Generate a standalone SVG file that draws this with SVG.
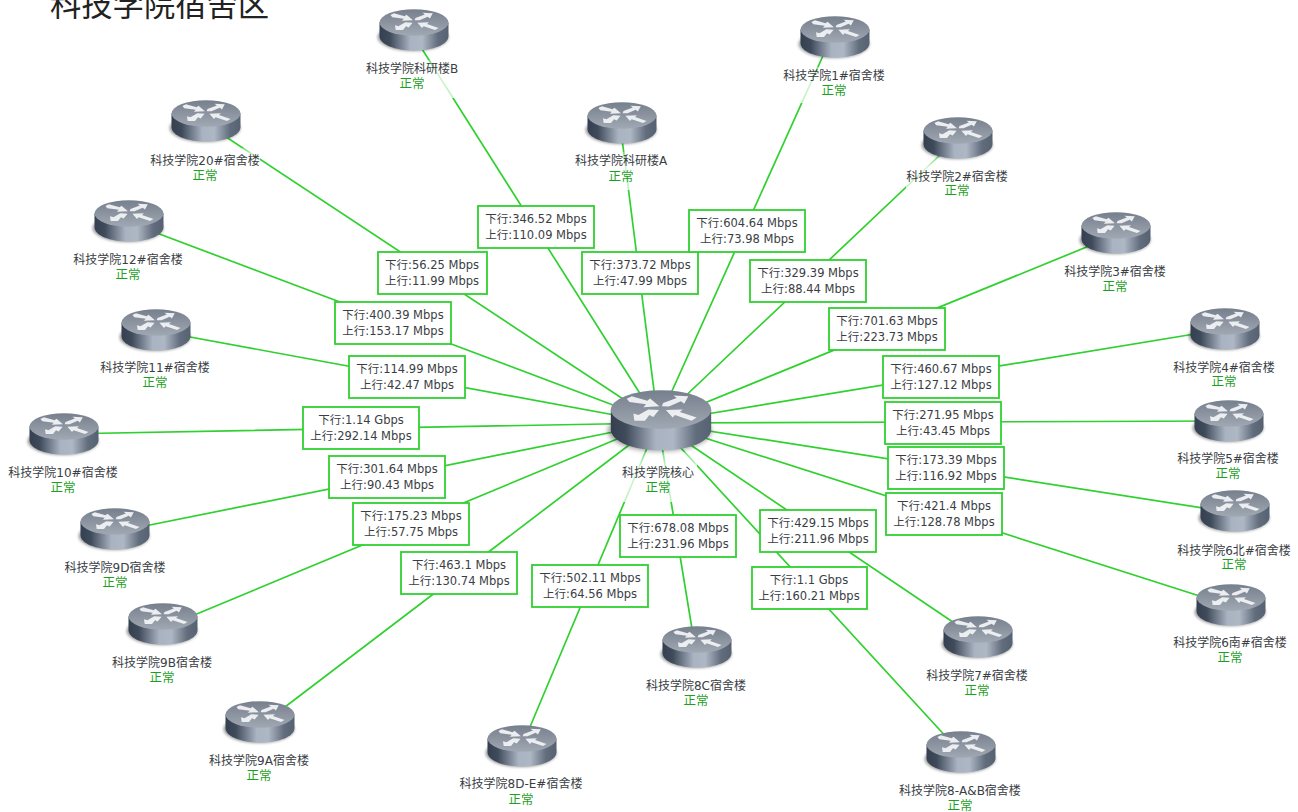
<svg xmlns="http://www.w3.org/2000/svg" width="1298" height="812" viewBox="0 0 1298 812">
<style>
text{font-family:"DejaVu Sans","Noto Sans CJK SC",sans-serif;font-size:12px;fill:#3a3e44;text-anchor:middle}
.title{font-family:"Liberation Sans","Noto Sans CJK SC",sans-serif;font-size:31.3px;fill:#222;text-anchor:start}
.st{fill:#1f9f1f;font-size:12.5px}
.ln{stroke:#2fd12f;stroke-width:1.7;fill:none}
.bx{fill:#fff;stroke:#2fd12f;stroke-width:1.8}
#link-labels text{font-size:11.5px}
</style>
<defs>
<linearGradient id="side" x1="0" x2="1" y1="0" y2="0">
<stop offset="0" stop-color="#343f50"/><stop offset=".15" stop-color="#3f4a5b"/><stop offset=".45" stop-color="#a9b3c1"/><stop offset=".62" stop-color="#aeb7c4"/><stop offset=".85" stop-color="#616c7c"/><stop offset="1" stop-color="#566171"/>
</linearGradient>
<linearGradient id="top" x1="0" x2="0" y1="0" y2="1">
<stop offset="0" stop-color="#767f8c"/><stop offset="1" stop-color="#a0a8b3"/>
</linearGradient>
<linearGradient id="fade" x1="0" x2="0" y1="0" y2="1"><stop offset="0" stop-color="#fff" stop-opacity=".3"/><stop offset=".3" stop-color="#fff" stop-opacity=".8"/><stop offset="1" stop-color="#fff" stop-opacity=".7"/></linearGradient>
<filter id="sh" x="-20%" y="-20%" width="140%" height="140%"><feGaussianBlur stdDeviation="1.8"/></filter>
<symbol id="r" viewBox="0 0 70 44" overflow="visible">
<ellipse cx="34" cy="28" rx="35.5" ry="14" fill="#000" opacity=".4" filter="url(#sh)"/>
<path d="M.5 13.500V27C.5 35.500 16 41.500 35 41.500S69.500 35.500 69.500 27V13.500Z" fill="url(#side)"/>
<ellipse cx="35" cy="13.500" rx="34.500" ry="13.300" fill="url(#top)"/>
<g fill="#f1f3f5" opacity=".95" transform="scale(1 .94)">
<path d="M11.400 6.400L14.900 4.600 25.600 7.800 27.500 6.200 33.900 11.900 22.900 12.600 24.700 10.500 13.300 8.700Z"/>
<path d="M36.500 9.500L45.800 5.900 43.500 4.100 53.800 4.600 50.900 10 48.700 8.300 40.500 12 35.600 11.900Z"/>
<path d="M33.600 14.600L29.700 19.700 27 18.300 24 22.400 16.700 22.400 16 17.200 19.500 18.300 26.300 14.200Z"/>
<path d="M38.400 14.600L49.900 14.200 48 16 59.500 20.100 56 22.400 44.600 18.300 43 20.100Z"/>
</g>
</symbol>
</defs>
<rect width="1298" height="812" fill="#fff"/>
<text class="title" x="50" y="16">科技学院宿舍区</text>
<g id="connectors">
<path class="ln" d="M658 422L410 30M658 422L620 123M658 422L831 38M658 422L958 138M658 422L1116 235M658 422L1225 329M658 423L1229 421M658 423L1235 513M658 423L1231 606M658 423L978 639M658 423L960 752M658 422L695 647M658 422L522 746M658 423L260 726M658 422L163 628M658 423L115 532M658 423L60 434M658 423L152 330M658 422L125 221M658 422L202 121"/>
<g id="label-halos">
<rect x="365" y="60" width="95" height="38" fill="url(#fade)"/>
<rect x="573" y="152" width="97" height="38" fill="url(#fade)"/>
<rect x="783" y="67" width="103" height="36" fill="url(#fade)"/>
<rect x="906" y="156" width="103" height="38" fill="url(#fade)"/>
<rect x="152" y="148" width="108" height="24" fill="url(#fade)"/>
<rect x="620" y="452" width="77" height="50" fill="url(#fade)"/>
</g>
</g>
<g id="link-labels">
<g><rect class="bx" x="478" y="206" width="116" height="42"/><text x="536" y="223">下行:346.52 Mbps</text><text x="536" y="239">上行:110.09 Mbps</text></g>
<g><rect class="bx" x="582" y="252" width="116" height="42"/><text x="640" y="269">下行:373.72 Mbps</text><text x="640" y="285">上行:47.99 Mbps</text></g>
<g><rect class="bx" x="689" y="210" width="116" height="42"/><text x="747" y="227">下行:604.64 Mbps</text><text x="747" y="243">上行:73.98 Mbps</text></g>
<g><rect class="bx" x="750" y="260" width="116" height="42"/><text x="808" y="277">下行:329.39 Mbps</text><text x="808" y="293">上行:88.44 Mbps</text></g>
<g><rect class="bx" x="829" y="308" width="116" height="42"/><text x="887" y="325">下行:701.63 Mbps</text><text x="887" y="341">上行:223.73 Mbps</text></g>
<g><rect class="bx" x="883" y="356" width="116" height="42"/><text x="941" y="373">下行:460.67 Mbps</text><text x="941" y="389">上行:127.12 Mbps</text></g>
<g><rect class="bx" x="885" y="402" width="116" height="42"/><text x="943" y="419">下行:271.95 Mbps</text><text x="943" y="435">上行:43.45 Mbps</text></g>
<g><rect class="bx" x="888" y="447" width="116" height="42"/><text x="946" y="464">下行:173.39 Mbps</text><text x="946" y="480">上行:116.92 Mbps</text></g>
<g><rect class="bx" x="886" y="493" width="116" height="42"/><text x="944" y="510">下行:421.4 Mbps</text><text x="944" y="526">上行:128.78 Mbps</text></g>
<g><rect class="bx" x="760" y="510" width="116" height="42"/><text x="818" y="527">下行:429.15 Mbps</text><text x="818" y="543">上行:211.96 Mbps</text></g>
<g><rect class="bx" x="752" y="567" width="115" height="42"/><text x="809" y="584">下行:1.1 Gbps</text><text x="809" y="600">上行:160.21 Mbps</text></g>
<g><rect class="bx" x="620" y="515" width="116" height="42"/><text x="678" y="532">下行:678.08 Mbps</text><text x="678" y="548">上行:231.96 Mbps</text></g>
<g><rect class="bx" x="532" y="565" width="116" height="42"/><text x="590" y="582">下行:502.11 Mbps</text><text x="590" y="598">上行:64.56 Mbps</text></g>
<g><rect class="bx" x="401" y="552" width="116" height="42"/><text x="459" y="569">下行:463.1 Mbps</text><text x="459" y="585">上行:130.74 Mbps</text></g>
<g><rect class="bx" x="353" y="503" width="116" height="42"/><text x="411" y="520">下行:175.23 Mbps</text><text x="411" y="536">上行:57.75 Mbps</text></g>
<g><rect class="bx" x="329" y="456" width="116" height="42"/><text x="387" y="473">下行:301.64 Mbps</text><text x="387" y="489">上行:90.43 Mbps</text></g>
<g><rect class="bx" x="303" y="407" width="116" height="42"/><text x="361" y="424">下行:1.14 Gbps</text><text x="361" y="440">上行:292.14 Mbps</text></g>
<g><rect class="bx" x="349" y="356" width="116" height="42"/><text x="407" y="373">下行:114.99 Mbps</text><text x="407" y="389">上行:42.47 Mbps</text></g>
<g><rect class="bx" x="335" y="302" width="116" height="42"/><text x="393" y="319">下行:400.39 Mbps</text><text x="393" y="335">上行:153.17 Mbps</text></g>
<g><rect class="bx" x="378" y="252" width="109" height="42"/><text x="432" y="269">下行:56.25 Mbps</text><text x="432" y="285">上行:11.99 Mbps</text></g>
</g>
<g id="core"><use href="#r" x="610" y="390" width="102" height="64"/><text x="658" y="477">科技学院核心</text><text class="st" x="658" y="492">正常</text></g>
<g id="n-b"><use href="#r" x="379" y="9" width="70" height="44"/><text x="412" y="73">科技学院科研楼B</text><text class="st" x="412" y="88">正常</text></g>
<g id="n-a"><use href="#r" x="587" y="102" width="70" height="44"/><text x="621" y="165">科技学院科研楼A</text><text class="st" x="621" y="181">正常</text></g>
<g id="n-1"><use href="#r" x="800" y="16" width="70" height="44"/><text x="834" y="80">科技学院1#宿舍楼</text><text class="st" x="834" y="95">正常</text></g>
<g id="n-2"><use href="#r" x="923" y="117" width="70" height="44"/><text x="957" y="181">科技学院2#宿舍楼</text><text class="st" x="957" y="195">正常</text></g>
<g id="n-3"><use href="#r" x="1081" y="212" width="70" height="44"/><text x="1115" y="276">科技学院3#宿舍楼</text><text class="st" x="1115" y="291">正常</text></g>
<g id="n-4"><use href="#r" x="1190" y="308" width="70" height="44"/><text x="1224" y="372">科技学院4#宿舍楼</text><text class="st" x="1224" y="386">正常</text></g>
<g id="n-5"><use href="#r" x="1194" y="400" width="70" height="44"/><text x="1228" y="463">科技学院5#宿舍楼</text><text class="st" x="1228" y="478">正常</text></g>
<g id="n-6n"><use href="#r" x="1200" y="490" width="70" height="44"/><text x="1234" y="555">科技学院6北#宿舍楼</text><text class="st" x="1234" y="569">正常</text></g>
<g id="n-6s"><use href="#r" x="1196" y="584" width="70" height="44"/><text x="1230" y="647">科技学院6南#宿舍楼</text><text class="st" x="1230" y="662">正常</text></g>
<g id="n-7"><use href="#r" x="943" y="616" width="70" height="44"/><text x="977" y="680">科技学院7#宿舍楼</text><text class="st" x="977" y="695">正常</text></g>
<g id="n-8ab"><use href="#r" x="926" y="731" width="70" height="44"/><text x="960" y="795">科技学院8-A&amp;B宿舍楼</text><text class="st" x="960" y="810">正常</text></g>
<g id="n-8c"><use href="#r" x="662" y="626" width="70" height="44"/><text x="696" y="690">科技学院8C宿舍楼</text><text class="st" x="696" y="705">正常</text></g>
<g id="n-8de"><use href="#r" x="487" y="725" width="70" height="44"/><text x="521" y="788">科技学院8D-E#宿舍楼</text><text class="st" x="521" y="804">正常</text></g>
<g id="n-9a"><use href="#r" x="225" y="701" width="70" height="44"/><text x="259" y="765">科技学院9A宿舍楼</text><text class="st" x="259" y="780">正常</text></g>
<g id="n-9b"><use href="#r" x="128" y="603" width="70" height="44"/><text x="162" y="667">科技学院9B宿舍楼</text><text class="st" x="162" y="682">正常</text></g>
<g id="n-9d"><use href="#r" x="80" y="508" width="70" height="44"/><text x="115" y="572">科技学院9D宿舍楼</text><text class="st" x="115" y="587">正常</text></g>
<g id="n-10"><use href="#r" x="29" y="413" width="70" height="44"/><text x="63" y="477">科技学院10#宿舍楼</text><text class="st" x="63" y="492">正常</text></g>
<g id="n-11"><use href="#r" x="121" y="309" width="70" height="44"/><text x="155" y="372">科技学院11#宿舍楼</text><text class="st" x="155" y="387">正常</text></g>
<g id="n-12"><use href="#r" x="94" y="200" width="70" height="44"/><text x="128" y="264">科技学院12#宿舍楼</text><text class="st" x="128" y="279">正常</text></g>
<g id="n-20"><use href="#r" x="171" y="100" width="70" height="44"/><text x="205" y="165">科技学院20#宿舍楼</text><text class="st" x="205" y="180">正常</text></g>
</svg>
